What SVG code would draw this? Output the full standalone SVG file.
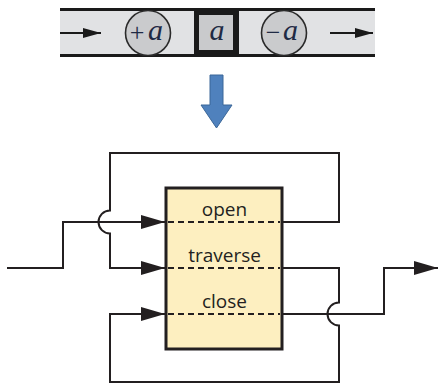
<svg xmlns="http://www.w3.org/2000/svg" width="440" height="383" viewBox="0 0 440 383">
  <defs>
    <marker id="head" viewBox="0 0 24 14" refX="24" refY="7" markerWidth="24" markerHeight="14" markerUnits="userSpaceOnUse" orient="auto">
      <path d="M0,0 L24,7 L0,14 Z" fill="#231f20"/>
    </marker>
    <marker id="headSmall" viewBox="0 0 18 10" refX="18" refY="5" markerWidth="18" markerHeight="10" markerUnits="userSpaceOnUse" orient="auto">
      <path d="M0,0 L18,5 L0,10 Z" fill="#1a1a1a"/>
    </marker>
  </defs>
  <style>
    .wire { fill: none; stroke: #231f20; stroke-width: 2; }
    .dash { fill: none; stroke: #231f20; stroke-width: 2; stroke-dasharray: 6 4; }
    .label { font-family: "Open Sans", "DejaVu Sans", sans-serif; font-size: 19px; fill: #231f20; text-anchor: middle; }
    .sym { font-family: "Liberation Serif", "DejaVu Serif", serif; font-style: italic; font-size: 30px; fill: #1f2a44; text-anchor: middle; }
    .op { font-family: "Liberation Serif", "DejaVu Serif", serif; font-size: 26px; fill: #1f2a44; text-anchor: middle; }
  </style>

  <rect width="440" height="383" fill="#ffffff"/>

  <!-- pipe strip with particles -->
  <g id="strip">
    <rect x="60" y="10" width="315" height="45" fill="#e1e2e4"/>
    <line x1="60" y1="9.5" x2="375" y2="9.5" stroke="#1a1a1a" stroke-width="3"/>
    <line x1="60" y1="55.5" x2="375" y2="55.5" stroke="#1a1a1a" stroke-width="3"/>
    <line x1="60" y1="33" x2="101" y2="33" stroke="#1a1a1a" stroke-width="2" marker-end="url(#headSmall)"/>
    <line x1="330" y1="33" x2="373" y2="33" stroke="#1a1a1a" stroke-width="2" marker-end="url(#headSmall)"/>
  </g>
  <g id="plus-a">
    <circle cx="148" cy="33" r="22.5" fill="#cacbcd" stroke="#2a2a2a" stroke-width="1.6"/>
    <text class="op" x="137" y="41">+</text>
    <text class="sym" x="155.5" y="40">a</text>
  </g>
  <g id="a-box">
    <rect x="194" y="9" width="45" height="47" fill="#1a1a1a"/>
    <rect x="199" y="15" width="34" height="35" fill="#c9cacc"/>
    <text class="sym" x="217" y="40">a</text>
  </g>
  <g id="minus-a">
    <circle cx="284" cy="33" r="22.5" fill="#cacbcd" stroke="#2a2a2a" stroke-width="1.6"/>
    <text class="op" x="273" y="41">−</text>
    <text class="sym" x="290.5" y="40">a</text>
  </g>

  <!-- transition arrow -->
  <g id="down-arrow">
    <path d="M210,75 L223,75 L223,105 L232,105 L216.5,128 L201,105 L210,105 Z" fill="#4f81bd" stroke="#3b6798" stroke-width="1"/>
  </g>

  <!-- state box -->
  <g id="state">
    <rect x="166" y="188" width="116" height="161" fill="#fdefc0" stroke="#231f20" stroke-width="3"/>
    <line class="dash" x1="168" y1="222" x2="280" y2="222"/>
    <line class="dash" x1="168" y1="268" x2="280" y2="268"/>
    <line class="dash" x1="168" y1="314" x2="280" y2="314"/>
    <text class="label" x="224.5" y="216">open</text>
    <text class="label" x="224.5" y="262">traverse</text>
    <text class="label" x="224.5" y="308">close</text>
  </g>

  <!-- connectors -->
  <g id="connectors">
    <!-- input to open -->
    <path class="wire" d="M7,268 H63 V222 H165" marker-end="url(#head)"/>
    <!-- open output loops back to traverse, hopping over the input -->
    <path class="wire" d="M283,222 H339 V153 H110 V210.5 A11.5,11.5 0 0 0 110,233.5 V268 H165" marker-end="url(#head)"/>
    <!-- traverse output loops back to close, hopping over the close output -->
    <path class="wire" d="M283,268 H339 V302.5 A11.5,11.5 0 0 0 339,325.5 V382 H110 V314 H165" marker-end="url(#head)"/>
    <!-- close output -->
    <path class="wire" d="M283,314 H384 V268 H438" marker-end="url(#head)"/>
  </g>
</svg>
